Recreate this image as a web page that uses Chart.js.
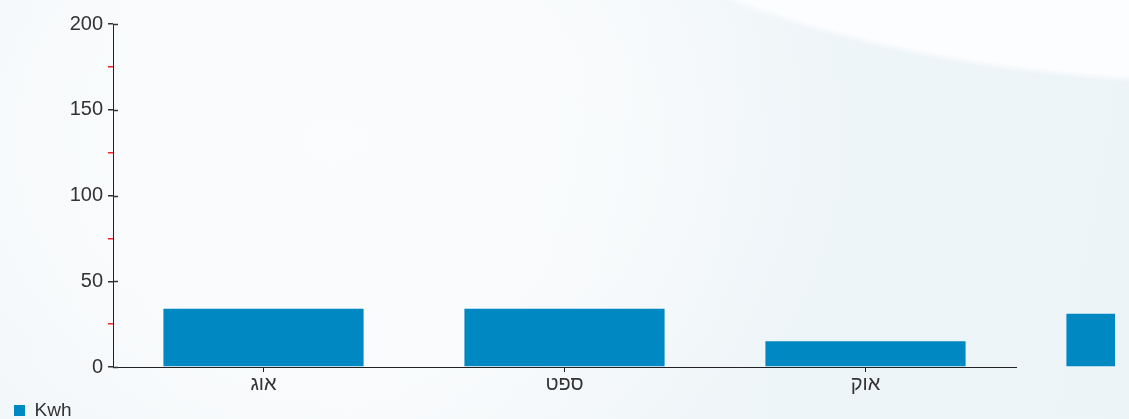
<!DOCTYPE html>
<html>
<head>
<meta charset="utf-8">
<script src="https://cdn.jsdelivr.net/npm/chart.js@4"></script>
<style>
  html, body {
    margin: 0;
    width: 1129px;
    height: 419px;
    overflow: hidden;
  }
  body {
    background:
      radial-gradient(ellipse 760px 330px at 1230px -245px, #fcfdfe 98%, rgba(252,253,254,0) 100%),
      radial-gradient(ellipse 520px 420px at 330px 140px, #fbfcfd 0%, rgba(251,252,253,0.6) 60%, rgba(251,252,253,0) 100%),
      linear-gradient(100deg, #f1f6f9 0%, #f5f8fa 35%, #eef5f8 70%, #edf4f8 100%);
  }
  #wrap {
    position: absolute;
    left: 0;
    top: 0;
    width: 1115px;
    height: 419px;
  }
</style>
</head>
<body>
<div id="wrap"><canvas id="kwhChart"></canvas></div>
<script>
const months = ["אוג", "ספט", "אוק", "נוב"];
const kwhValues = [34, 34, 15, 31];
const yMax = 200;
const yStep = 25;
const labelStep = 50;

// short marks on the inner side of the y axis at the labelled ticks
const innerTicks = {
  id: "innerTicks",
  afterDraw(chart) {
    const y = chart.scales.y;
    const ctx = chart.ctx;
    ctx.save();
    ctx.strokeStyle = "#333";
    ctx.lineWidth = 1.5;
    y.ticks.forEach(t => {
      if (t.value % labelStep !== 0) return;
      const py = Math.round(y.getPixelForValue(t.value)) + 0.5;
      ctx.beginPath();
      ctx.moveTo(y.right, py);
      ctx.lineTo(y.right + 5, py);
      ctx.stroke();
    });
    ctx.restore();
  }
};

const ctx = document.getElementById("kwhChart").getContext("2d");

new Chart(ctx, {
  type: "bar",
  data: {
    labels: months,
    datasets: [{
      label: "Kwh",
      data: kwhValues,
      backgroundColor: "#0088c2",
      borderWidth: 0,
      barPercentage: 0.665,
      categoryPercentage: 1,
      clip: false
    }]
  },
  options: {
    responsive: true,
    maintainAspectRatio: false,
    animation: false,
    layout: {
      padding: { top: 24, right: 99, bottom: -11, left: 12 }
    },
    plugins: {
      legend: {
        position: "bottom",
        align: "start",
        labels: {
          boxWidth: 11,
          boxHeight: 11,
          padding: 2,
          color: "#333",
          font: { family: "Liberation Sans", size: 19 }
        }
      },
      tooltip: { enabled: false }
    },
    scales: {
      x: {
        max: months[2],
        offset: true,
        afterFit(scale) { scale.height = 32; },
        border: { display: true, color: "#222", width: 1 },
        grid: {
          offset: false,
          drawOnChartArea: false,
          drawTicks: true,
          tickLength: 5,
          color: "#222"
        },
        ticks: {
          color: "#333",
          padding: 0,
          font: { family: "Liberation Sans", size: 20 }
        }
      },
      y: {
        min: 0,
        max: yMax,
        afterFit(scale) { scale.width = 101; },
        border: { display: true, color: "#222", width: 1 },
        grid: {
          drawOnChartArea: false,
          drawTicks: true,
          tickLength: 5,
          lineWidth: 1.5,
          color: c => (c.tick && c.tick.value % labelStep === 0) ? "#333" : "#ff2020"
        },
        ticks: {
          stepSize: yStep,
          color: "#333",
          padding: 5,
          font: { family: "Liberation Sans", size: 20 },
          callback: v => (v % labelStep === 0 ? v : "")
        }
      }
    }
  },
  plugins: [innerTicks]
});
</script>
</body>
</html>
